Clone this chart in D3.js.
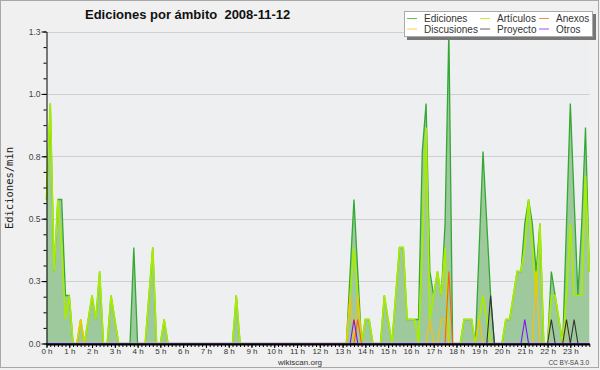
<!DOCTYPE html>
<html><head><meta charset="utf-8">
<script src="https://cdn.jsdelivr.net/npm/d3@7"></script>
<style>
body{margin:0;background:#f0f0f0;}
text{font-family:"Liberation Sans",Arial,sans-serif;}
</style>
</head><body><svg id="c" width="600" height="370"></svg>
<script>
// ---- data: one value every 10 minutes, 2008-11-12 (144 points) ----
const hourLabels = d3.range(24).map(h => h + " h");
const yTickValues = [0, 0.26, 0.52, 0.78, 1.04, 1.3];
const seriesNames = ["Ediciones","Artículos","Anexos","Discusiones","Proyecto","Otros"];

const ediciones = [
 0.6,1.0,0.3,0.6,0.6,0.2,0.2,0,0,0.1,0,0.1,
 0.2,0.1,0.3,0,0,0.2,0.1,0,0,0,0,0.4,
 0,0,0,0.2,0.4,0,0,0.1,0,0,0,0,
 0,0,0,0,0,0,0,0,0,0,0,0,
 0,0,0.2,0,0,0,0,0,0,0,0,0,
 0,0,0,0,0,0,0,0,0,0,0,0,
 0,0,0,0,0,0,0,0,0.3,0.6,0.3,0,
 0.1,0.1,0,0,0,0.2,0.1,0,0.2,0.4,0.4,0.1,
 0.1,0.1,0.1,0.8,1.0,0.3,0.2,0.3,0.2,0.5,1.3,0,
 0,0,0.1,0.1,0.1,0,0.4,0.8,0.5,0.2,0,0,
 0,0.1,0.1,0.2,0.3,0.3,0.5,0.6,0.5,0.3,0.5,0,
 0,0.3,0.2,0.1,0,0.5,1.0,0.6,0.2,0.5,0.9,0.3];
const articulos = [
 0.6,1.0,0.3,0.6,0.4,0.1,0.2,0,0,0.1,0,0.1,
 0.2,0.1,0.3,0,0,0.2,0.1,0,0,0,0,0,
 0,0,0,0.2,0.4,0,0,0.1,0,0,0,0,
 0,0,0,0,0,0,0,0,0,0,0,0,
 0,0,0.2,0,0,0,0,0,0,0,0,0,
 0,0,0,0,0,0,0,0,0,0,0,0,
 0,0,0,0,0,0,0,0,0.2,0.4,0.2,0,
 0.1,0.1,0,0,0,0.2,0.1,0,0.2,0.4,0.4,0.1,
 0.1,0.1,0,0.4,0.9,0.1,0.2,0.3,0.2,0.4,0,0,
 0,0,0.1,0.1,0.1,0,0.1,0.2,0.1,0,0,0,
 0,0.1,0.1,0.2,0.3,0.3,0.4,0.6,0.4,0.2,0.5,0,
 0,0.2,0.2,0.1,0,0.2,0.5,0.2,0.2,0.2,0.7,0.3];
const anexos = [
 0,0,0,0,0,0,0,0,0,0,0,0,
 0,0,0,0,0,0,0,0,0,0,0,0,
 0,0,0,0,0,0,0,0,0,0,0,0,
 0,0,0,0,0,0,0,0,0,0,0,0,
 0,0,0,0,0,0,0,0,0,0,0,0,
 0,0,0,0,0,0,0,0,0,0,0,0,
 0,0,0,0,0,0,0,0,0,0,0.1,0,
 0,0,0,0,0,0,0,0,0,0,0,0,
 0,0,0,0,0,0,0,0,0,0,0.3,0,
 0,0,0,0,0,0,0,0,0,0,0,0,
 0,0,0,0,0,0,0,0,0,0,0,0,
 0,0,0,0,0,0,0,0,0,0,0,0];
const discusiones = [
 0,0,0,0,0,0,0,0,0,0.1,0,0,
 0,0,0,0,0,0,0,0,0,0,0,0,
 0,0,0,0,0,0,0,0,0,0,0,0,
 0,0,0,0,0,0,0,0,0,0,0,0,
 0,0,0,0,0,0,0,0,0,0,0,0,
 0,0,0,0,0,0,0,0,0,0,0,0,
 0,0,0,0,0,0,0,0,0.2,0,0.2,0,
 0,0,0,0,0,0,0,0,0,0,0,0,
 0,0,0,0,0,0.1,0,0,0.1,0.1,0,0,
 0,0,0,0,0,0,0.1,0,0,0,0,0,
 0,0,0,0,0,0,0,0,0,0.3,0,0,
 0,0,0,0,0,0.1,0,0,0,0,0,0];
const proyecto = [
 0,0,0,0,0,0,0,0,0,0,0,0,
 0,0,0,0,0,0,0,0,0,0,0,0,
 0,0,0,0,0,0,0,0,0,0,0,0,
 0,0,0,0,0,0,0,0,0,0,0,0,
 0,0,0,0,0,0,0,0,0,0,0,0,
 0,0,0,0,0,0,0,0,0,0,0,0,
 0,0,0,0,0,0,0,0,0,0,0,0,
 0,0,0,0,0,0,0,0,0,0,0,0,
 0,0,0,0,0,0,0,0,0,0,0,0,
 0,0,0,0,0,0,0,0,0,0.2,0,0,
 0,0,0,0,0,0,0,0,0,0,0,0,
 0,0.1,0,0,0,0.1,0,0.1,0,0,0,0];
const otros = [
 0,0,0,0,0,0,0,0,0,0,0,0,
 0,0,0,0,0,0,0,0,0,0,0,0,
 0,0,0,0,0,0,0,0,0,0,0,0,
 0,0,0,0,0,0,0,0,0,0,0,0,
 0,0,0,0,0,0,0,0,0,0,0,0,
 0,0,0,0,0,0,0,0,0,0,0,0,
 0,0,0,0,0,0,0,0,0,0.1,0,0,
 0,0,0,0,0,0,0,0,0,0,0,0,
 0,0,0,0,0,0,0,0,0,0,0,0,
 0,0,0,0,0,0,0,0,0,0,0,0,
 0,0,0,0,0,0,0.1,0,0,0,0,0,
 0,0,0,0,0,0,0,0,0,0,0,0];

// ---- drawing ----
const W = 600, H = 370;
const svg = d3.select("#c");
const x = d3.scaleLinear().domain([0, ediciones.length - 1]).range([46.5, 589.3]);
const y = d3.scaleLinear().domain([0, 1.3]).range([343.5, 31.5]);

svg.append("rect").attr("width", W).attr("height", H).attr("fill", "#f0f0f0");
svg.append("rect").attr("x", 0.5).attr("y", 0.5).attr("width", 598).attr("height", 367)
  .attr("fill", "none").attr("stroke", "#a8a8a8");
svg.append("rect").attr("x", x(0)).attr("y", y(1.3)).attr("width", x(143) - x(0))
  .attr("height", y(0) - y(1.3)).attr("fill", "#eeeff1");

// grid
svg.append("g").selectAll("line").data(yTickValues.slice(1)).join("line")
  .attr("x1", x(0)).attr("x2", x(143))
  .attr("y1", d => Math.round(y(d)) + 0.5).attr("y2", d => Math.round(y(d)) + 0.5)
  .attr("stroke", "#cfcfcf").attr("stroke-width", 1);

// Ediciones area + lines
const idx = d3.range(ediciones.length);
const area = d3.area().x(i => x(i)).y0(y(0)).y1(i => y(ediciones[i]));
svg.append("path").datum(idx).attr("d", area).attr("fill", "#9dc99d");

const colors = {
  "Ediciones": "#33a833", "Artículos": "#a8ec00", "Anexos": "#ff6010",
  "Discusiones": "#ffc000", "Proyecto": "#333333", "Otros": "#8010ff"
};
const widths = {"Ediciones": 1.3, "Artículos": 1.7, "Anexos": 1.1, "Discusiones": 1.1, "Proyecto": 1.1, "Otros": 1.1};
const dataByName = {
  "Ediciones": ediciones, "Artículos": articulos, "Anexos": anexos,
  "Discusiones": discusiones, "Proyecto": proyecto, "Otros": otros
};
const drawOrder = ["Ediciones","Artículos","Discusiones","Anexos","Proyecto","Otros"];
drawOrder.forEach(name => {
  const vals = dataByName[name];
  const line = d3.line().x(i => x(i)).y(i => y(vals[i]));
  svg.append("path").datum(idx).attr("d", line).attr("fill", "none")
    .attr("stroke", colors[name]).attr("stroke-width", widths[name])
    .attr("stroke-linejoin", "miter");
});

// axes
const fmt = d3.format(".1f");
const minorY = d3.range(0, 21).map(k => k * 0.065);
const gyMinor = svg.append("g").attr("transform", "translate(46.5,0)")
  .call(d3.axisLeft(y).tickValues(minorY).tickSize(3).tickFormat(""));
gyMinor.select(".domain").remove();
const gy = svg.append("g").attr("transform", "translate(46.5,0)")
  .call(d3.axisLeft(y).tickValues(yTickValues).tickSize(5).tickSizeOuter(0).tickPadding(1).tickFormat(fmt));
gy.select(".domain").attr("stroke", "#000");
gy.selectAll(".tick text").attr("font-size", 8.5).attr("fill", "#444");

const gxMinor = svg.append("g").attr("transform", "translate(0,344)")
  .call(d3.axisBottom(x).tickValues(idx).tickSize(3).tickFormat(""));
gxMinor.select(".domain").remove();
const gx = svg.append("g").attr("transform", "translate(0,344)")
  .call(d3.axisBottom(x).tickValues(d3.range(0, 144, 6)).tickSize(4).tickSizeOuter(0)
    .tickPadding(0).tickFormat(i => hourLabels[i / 6]));
gx.select(".domain").attr("stroke", "#000").attr("stroke-width", 2);
gx.selectAll(".tick text").attr("font-size", 8).attr("fill", "#333");
svg.selectAll(".tick line").attr("stroke", "#000");

// title
svg.append("text").attr("x", 85).attr("y", 18.5)
  .attr("font-size", 13).attr("font-weight", "bold").attr("fill", "#111")
  .style("white-space", "pre").text("Ediciones por ámbito  2008-11-12");

// y label
svg.append("text").attr("transform", "translate(13,188) rotate(-90)")
  .attr("text-anchor", "middle").style("font-family", "'DejaVu Sans Mono', monospace")
  .attr("font-size", 10.5).attr("fill", "#222").text("Ediciones/min");

// footer
svg.append("text").attr("x", 300).attr("y", 365.2).attr("text-anchor", "middle")
  .attr("font-size", 8).attr("fill", "#333").text("wikiscan.org");
svg.append("text").attr("x", 589).attr("y", 365).attr("text-anchor", "end")
  .attr("font-size", 6.5).attr("fill", "#444").text("CC BY-SA 3.0");

// legend
const lg = svg.append("g");
lg.append("rect").attr("x", 407).attr("y", 14).attr("width", 189).attr("height", 26).attr("fill", "#777");
lg.append("rect").attr("x", 404.5).attr("y", 11.5).attr("width", 188).attr("height", 25)
  .attr("fill", "#fff").attr("stroke", "#aaa");
const legendCols = [407, 480, 539];
const legendRows = [18.5, 29];
const legendLayout = [["Ediciones", 0, 0], ["Artículos", 1, 0], ["Anexos", 2, 0],
                      ["Discusiones", 0, 1], ["Proyecto", 1, 1], ["Otros", 2, 1]];
legendLayout.forEach(([name, c, r]) => {
  const lx = legendCols[c], ly = legendRows[r];
  lg.append("line").attr("x1", lx).attr("x2", lx + 10).attr("y1", ly).attr("y2", ly)
    .attr("stroke", colors[name]).attr("stroke-opacity", 0.75).attr("stroke-width", 1);
  lg.append("text").attr("x", lx + 17).attr("y", ly + 3.8).attr("font-size", 10)
    .attr("fill", "#333").text(name);
});
</script>
</body></html>
